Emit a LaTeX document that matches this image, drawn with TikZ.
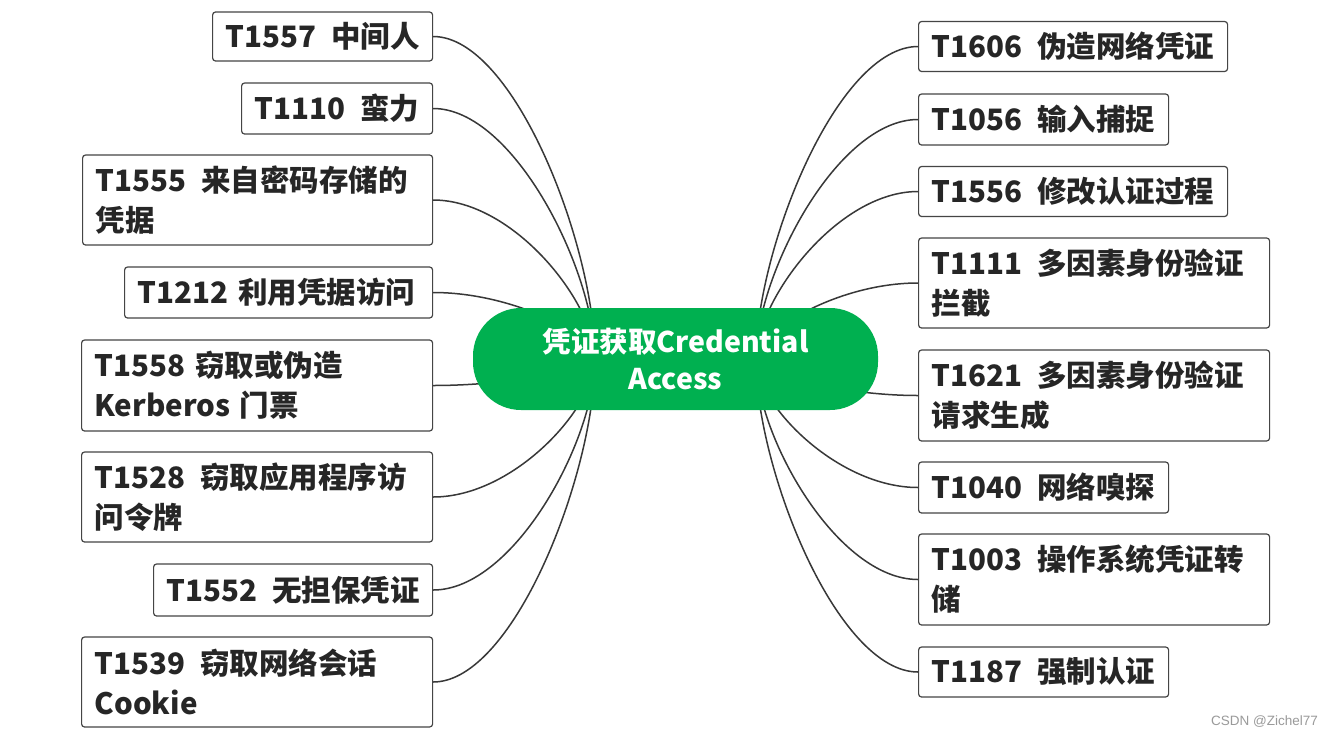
\documentclass[tikz,border=0pt]{standalone}
\usepackage{fontspec}
\setmainfont{Noto Sans CJK SC}
\newfontfamily\wmfont{Liberation Sans}
\usetikzlibrary{calc}
\definecolor{rootgreen}{HTML}{00B050}
\definecolor{boxc}{HTML}{454545}
\definecolor{linec}{HTML}{383838}
\definecolor{txt}{HTML}{262626}
\definecolor{wmc}{HTML}{9A9A9A}
\newcommand\gp{\hspace{0.5em}}
\tikzset{
  leaf/.style={draw=boxc, line width=1.2pt, rounded corners=3pt, fill=white, text=txt,
    align=left, inner xsep=13pt, inner ysep=0pt, anchor=west,
    font=\fontsize{29.5}{40}\selectfont\bfseries},
  conn/.style={draw=linec, line width=1.5pt},
  rootnode/.style={fill=rootgreen, rounded corners=48pt, text=white, align=center,
    minimum width=405pt, minimum height=102pt, inner sep=0pt,
    font=\fontsize{28.5}{37}\selectfont\bfseries},
  wm/.style={text=wmc, font=\wmfont\fontsize{13.5}{15}\selectfont, inner sep=0pt}
}
\newcommand\lcon[1]{\draw[conn] (SL) .. controls ($(SL)!0.35!(SL|-#1.east)$) and ($(#1.east)!0.5!(SL|-#1.east)$) .. (#1.east);}
\newcommand\rcon[1]{\draw[conn] (SR) .. controls ($(SR)!0.35!(SR|-#1.west)$) and ($(#1.west)!0.5!(SR|-#1.west)$) .. (#1.west);}
\begin{document}
\begin{tikzpicture}[x=1pt,y=-1pt]
\useasboundingbox (0,0) rectangle (1334,737);
\fill[white] (0,0) rectangle (1334,737);
% left leaves
\node[leaf, text width=194pt, minimum height=49pt] (L1) at (212,36.5) {T1557\gp 中间人};
\node[leaf, text width=165pt, minimum height=51pt] (L2) at (241,108.5) {T1110\gp 蛮力};
\node[leaf, text width=324pt, minimum height=90pt] (L3) at (82,200) {T1555\gp 来自密码存储的\\凭据};
\node[leaf, text width=282pt, minimum height=51pt] (L4) at (124,292.5) {T1212 利用凭据访问};
\node[leaf, text width=325pt, minimum height=91pt] (L5) at (81,385.5) {T1558 窃取或伪造\\Kerberos 门票};
\node[leaf, text width=325pt, minimum height=90pt] (L6) at (81,497) {T1528\gp 窃取应用程序访\\问令牌};
\node[leaf, text width=253pt, minimum height=52pt] (L7) at (153,590) {T1552\gp 无担保凭证};
\node[leaf, text width=325pt, minimum height=90pt] (L8) at (81,682) {T1539\gp 窃取网络会话\\Cookie};
% right leaves
\node[leaf, text width=283pt, minimum height=50pt] (R1) at (918,46.5) {T1606\gp 伪造网络凭证};
\node[leaf, text width=224pt, minimum height=51pt] (R2) at (918,119.5) {T1056\gp 输入捕捉};
\node[leaf, text width=283pt, minimum height=50pt] (R3) at (918,191.5) {T1556\gp 修改认证过程};
\node[leaf, text width=325pt, minimum height=90pt] (R4) at (918,283) {T1111\gp 多因素身份验证\\拦截};
\node[leaf, text width=325pt, minimum height=91pt] (R5) at (918,395.5) {T1621\gp 多因素身份验证\\请求生成};
\node[leaf, text width=224pt, minimum height=51pt] (R6) at (918,487.5) {T1040\gp 网络嗅探};
\node[leaf, text width=325pt, minimum height=91pt] (R7) at (918,579.5) {T1003\gp 操作系统凭证转\\储};
\node[leaf, text width=224pt, minimum height=50pt] (R8) at (918,672) {T1187\gp 强制认证};
% connectors
\coordinate (SL) at (595,359);
\coordinate (SR) at (756,359);
\lcon{L1}\lcon{L2}\lcon{L3}\lcon{L4}\lcon{L5}\lcon{L6}\lcon{L7}\lcon{L8}
\rcon{R1}\rcon{R2}\rcon{R3}\rcon{R4}\rcon{R5}\rcon{R6}\rcon{R7}\rcon{R8}
% root
\node[rootnode] (root) at (675.5,359) {凭证获取Credential\\Access};
% watermark
\node[wm, anchor=east] (wmark) at (1318,722) {CSDN @Zichel77};
\end{tikzpicture}
\end{document}
